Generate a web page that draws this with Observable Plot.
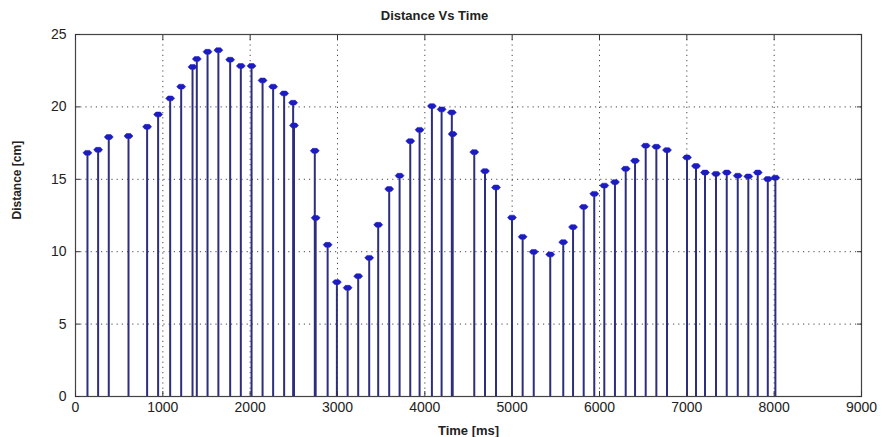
<!DOCTYPE html>
<html>
<head>
<meta charset="utf-8">
<script src="https://cdn.jsdelivr.net/npm/d3@7"></script>
<script src="https://cdn.jsdelivr.net/npm/@observablehq/plot@0.6"></script>
<style>
  html, body { margin: 0; padding: 0; background: #fff; }
  #title { width: 885px; height: 24px; box-sizing: border-box; padding-top: 8px; padding-left: 0px;
           font: bold 13px "Liberation Sans", Arial, sans-serif; line-height: 16px; text-align: center; color: #222;
           text-indent: -16px; }
  svg { display: block; }
</style>
</head>
<body>
<div id="title">Distance Vs Time</div>
<div id="chart"></div>
<script>
const timesMs = [137, 259, 381, 607, 820, 946, 1084, 1210, 1340, 1389, 1512, 1636, 1771, 1893, 2016,
  2142, 2263, 2389, 2492, 2502, 2740, 2750, 2887, 2993, 3116, 3237, 3363, 3466, 3592, 3711,
  3833, 3940, 4081, 4192, 4309, 4319, 4566, 4689, 4815, 4998, 5120, 5247, 5436, 5585, 5697,
  5819, 5940, 6055, 6177, 6300, 6407, 6529, 6651, 6773, 7002, 7105, 7208, 7334, 7457, 7583,
  7704, 7812, 7927, 8014];
const distancesCm = [16.83, 17.04, 17.92, 17.99, 18.63, 19.48, 20.59, 21.40, 22.76, 23.31, 23.81, 23.92, 23.26, 22.83, 22.83,
  21.83, 21.40, 20.93, 20.29, 18.72, 16.97, 12.34, 10.48, 7.90, 7.51, 8.31, 9.58, 11.86, 14.33, 15.25,
  17.64, 18.42, 20.06, 19.83, 19.62, 18.13, 16.88, 15.57, 14.44, 12.36, 11.03, 9.99, 9.81, 10.66, 11.70,
  13.10, 14.00, 14.57, 14.81, 15.73, 16.28, 17.32, 17.25, 17.02, 16.51, 15.92, 15.47, 15.38, 15.47, 15.25,
  15.20, 15.47, 15.02, 15.11];
const xTicks = [0, 1000, 2000, 3000, 4000, 5000, 6000, 7000, 8000, 9000];
const yTicks = [0, 5, 10, 15, 20, 25];
const xGrid = [1000, 2000, 3000, 4000, 5000, 6000, 7000, 8000];
const yGrid = [5, 10, 15, 20];
const xLabel = "Time [ms]";
const yLabel = "Distance [cm]";

const data = timesMs.map((t, i) => ({t, d: distancesCm[i]}));

const flatMarker = {
  draw(ctx, size) {
    const w = 4.5, h = 2.4;
    ctx.moveTo(-w, 0);
    ctx.lineTo(-w / 2, -h);
    ctx.lineTo(w / 2, -h);
    ctx.lineTo(w, 0);
    ctx.lineTo(w / 2, h);
    ctx.lineTo(-w / 2, h);
    ctx.closePath();
  }
};

const plain = d => String(d);

const chart = Plot.plot({
  width: 885,
  height: 413,
  marginLeft: 75,
  marginRight: 24,
  marginTop: 10,
  marginBottom: 41,
  style: {fontFamily: "'Liberation Sans', Arial, sans-serif", fontSize: "13px", color: "#222", background: "#fff"},
  x: {domain: [0, 9000]},
  y: {domain: [0, 25]},
  marks: [
    Plot.gridX(xGrid, {stroke: "#333", strokeOpacity: 0.9, strokeDasharray: "1.2,4"}),
    Plot.gridY(yGrid, {stroke: "#333", strokeOpacity: 0.9, strokeDasharray: "1.2,4"}),
    Plot.ruleX(data, {x: "t", y1: 0, y2: "d", stroke: "#2e2e7e", strokeWidth: 2}),
    Plot.dot(data, {x: "t", y: "d", symbol: flatMarker, fill: "#1c1cc0", stroke: "#1c1cc0", strokeWidth: 0.5}),
    Plot.frame({stroke: "#444", strokeWidth: 1.2}),
    Plot.axisX(xTicks, {anchor: "bottom", tickSize: 0, tickPadding: 6, label: null, fontSize: 14, tickFormat: plain}),
    Plot.axisX(xTicks, {anchor: "bottom", tickSize: -5, text: null, label: null, stroke: "#333"}),
    Plot.axisX(xTicks, {anchor: "top", tickSize: -5, text: null, label: null, stroke: "#333"}),
    Plot.axisY(yTicks, {anchor: "left", tickSize: 0, tickPadding: 9, label: null, fontSize: 14, tickFormat: plain}),
    Plot.axisY(yTicks, {anchor: "left", tickSize: -5, text: null, label: null, stroke: "#333"}),
    Plot.axisY(yTicks, {anchor: "right", tickSize: -5, text: null, label: null, stroke: "#333"}),
    Plot.text([xLabel], {frameAnchor: "bottom", dy: 34, text: d => d, fontWeight: "bold", fontSize: 13, lineAnchor: "middle", fill: "#222"}),
    Plot.text([yLabel], {frameAnchor: "left", dx: -58, dy: 4, rotate: -90, text: d => d, fontWeight: "bold", fontSize: 12, fill: "#222"})
  ]
});
document.getElementById("chart").appendChild(chart);
</script>
</body>
</html>
